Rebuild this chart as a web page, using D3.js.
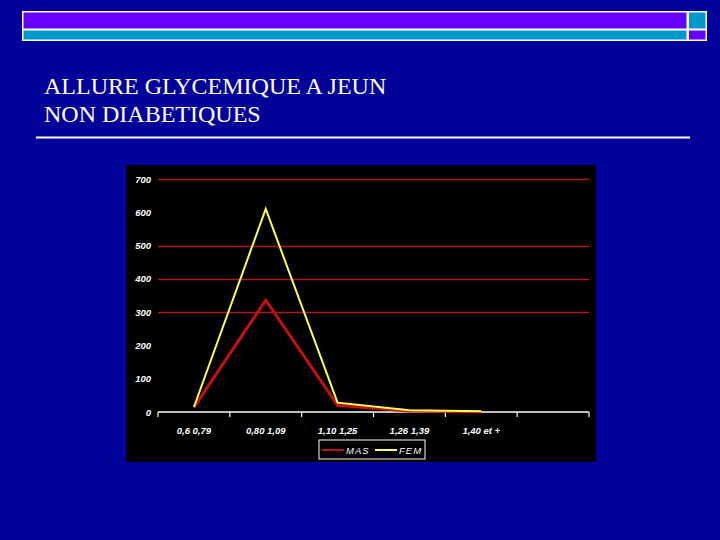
<!DOCTYPE html>
<html>
<head>
<meta charset="utf-8">
<script src="https://cdn.jsdelivr.net/npm/d3@7"></script>
<style>
  html, body { margin: 0; padding: 0; background: #020299; }
  svg { display: block; }
</style>
</head>
<body>
<svg id="chart" width="720" height="540"></svg>
<script>
// data
const categories = ['0,6 0,79', '0,80 1,09', '1,10 1,25', '1,26 1,39', '1,40 et +', ''];
const masValues = [14, 336, 20, 3, 1];
const femValues = [15, 610, 28, 5, 2];
const yTicks = [0, 100, 200, 300, 400, 500, 600, 700];
const gridValues = [300, 400, 500, 700];
const titleLines = ['ALLURE GLYCEMIQUE A JEUN', 'NON DIABETIQUES'];
const seriesNames = ['MAS', 'FEM'];

const svg = d3.select('#chart');

// slide background
svg.append('rect')
  .attr('width', 720).attr('height', 540)
  .attr('fill', '#020299');

// top banner (two stripes with small squares on the right)
const banner = svg.append('g');
banner.append('rect')
  .attr('x', 22).attr('y', 11).attr('width', 685).attr('height', 30)
  .attr('fill', '#ffffff');
banner.append('rect')
  .attr('x', 23.5).attr('y', 12.5).attr('width', 663).attr('height', 16)
  .attr('fill', '#6600ff');
banner.append('rect')
  .attr('x', 689).attr('y', 12.5).attr('width', 16.5).attr('height', 16)
  .attr('fill', '#0099cc');
banner.append('rect')
  .attr('x', 23.5).attr('y', 30.5).attr('width', 663).attr('height', 9)
  .attr('fill', '#0099cc');
banner.append('rect')
  .attr('x', 689).attr('y', 30.5).attr('width', 16.5).attr('height', 9)
  .attr('fill', '#6600ff');

// title
svg.append('g')
  .selectAll('text')
  .data(titleLines)
  .join('text')
  .attr('x', 44)
  .attr('y', (d, i) => 94 + i * 28)
  .attr('fill', '#ffffff')
  .style('font-family', '"Liberation Serif", "Times New Roman", serif')
  .style('font-size', '24px')
  .text(d => d);

svg.append('line')
  .attr('x1', 36).attr('x2', 690)
  .attr('y1', 137.5).attr('y2', 137.5)
  .attr('stroke', '#ffffff').attr('stroke-width', 2);

// chart area
svg.append('rect')
  .attr('x', 126).attr('y', 165).attr('width', 470).attr('height', 297)
  .attr('fill', '#000000');

const x = d3.scaleBand()
  .domain(d3.range(categories.length))
  .range([158, 589]);

const y = d3.scaleLinear()
  .domain([0, 700])
  .range([412, 179]);

// gridlines
svg.append('g')
  .selectAll('line')
  .data(gridValues)
  .join('line')
  .attr('x1', 158).attr('x2', 589)
  .attr('y1', d => Math.round(y(d)) + 0.5).attr('y2', d => Math.round(y(d)) + 0.5)
  .attr('stroke', '#a81c1c').attr('stroke-width', 1.3);

const labelFont = 'Liberation Sans, Arial, sans-serif';

// y tick labels
svg.append('g')
  .selectAll('text')
  .data(yTicks)
  .join('text')
  .attr('x', 151)
  .attr('y', d => y(d) + 3.5)
  .attr('text-anchor', 'end')
  .attr('fill', '#ffffff')
  .style('font-family', labelFont)
  .style('font-size', '9.5px')
  .style('font-style', 'italic')
  .style('font-weight', 'bold')
  .text(d => d);

// x axis
const xAxis = svg.append('g')
  .attr('transform', 'translate(0,412)')
  .call(d3.axisBottom(x).tickSize(0).tickFormat(i => categories[i]));
xAxis.select('.domain').remove();
xAxis.append('line')
  .attr('x1', 158).attr('x2', 589)
  .attr('y1', 0).attr('y2', 0)
  .attr('stroke', '#ffffff').attr('stroke-width', 1.5);
xAxis.selectAll('.band-tick')
  .data(d3.range(categories.length + 1))
  .join('line')
  .attr('class', 'band-tick')
  .attr('x1', i => i < categories.length ? x(i) : x.range()[1])
  .attr('x2', i => i < categories.length ? x(i) : x.range()[1])
  .attr('y1', 0).attr('y2', 5)
  .attr('stroke', '#ffffff').attr('stroke-width', 1.2);
xAxis.selectAll('.tick text')
  .attr('y', 15)
  .attr('fill', '#ffffff')
  .style('font-family', labelFont)
  .style('font-size', '9.5px')
  .style('font-style', 'italic')
  .style('font-weight', 'bold');

// series lines
const line = d3.line()
  .x((d, i) => x(i) + x.bandwidth() / 2)
  .y(d => y(d));

svg.append('path')
  .datum(masValues)
  .attr('d', line)
  .attr('fill', 'none')
  .attr('stroke', '#c41010')
  .attr('stroke-width', 3)
  .attr('stroke-linejoin', 'miter');

svg.append('path')
  .datum(femValues)
  .attr('d', line)
  .attr('fill', 'none')
  .attr('stroke', '#ffff55')
  .attr('stroke-width', 2)
  .attr('stroke-linejoin', 'miter');

// legend
const legend = svg.append('g').attr('transform', 'translate(319,440)');
legend.append('rect')
  .attr('width', 106).attr('height', 19)
  .attr('fill', '#000000')
  .attr('stroke', '#ffffff').attr('stroke-width', 1);
const legendColors = ['#b81818', '#ffff77'];
const item = legend.selectAll('g.item')
  .data(seriesNames)
  .join('g')
  .attr('class', 'item')
  .attr('transform', (d, i) => `translate(${3 + i * 53},0)`);
item.append('line')
  .attr('x1', 0).attr('x2', 22)
  .attr('y1', 10).attr('y2', 10)
  .attr('stroke', (d, i) => legendColors[i])
  .attr('stroke-width', 2);
item.append('text')
  .attr('x', 24).attr('y', 13.5)
  .attr('fill', '#ffffff')
  .style('font-family', labelFont)
  .style('font-size', '9.5px')
  .style('font-style', 'italic')
  .style('letter-spacing', '1px')
  .text(d => d);
</script>
</body>
</html>
